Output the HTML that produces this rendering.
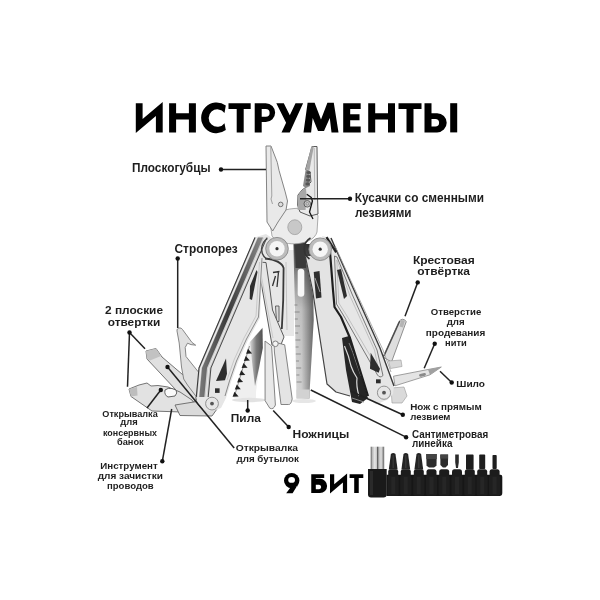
<!DOCTYPE html>
<html><head><meta charset="utf-8">
<style>
html,body{margin:0;padding:0;background:#fff;width:600px;height:600px;overflow:hidden}
svg{display:block;filter:grayscale(1)}
text{font-family:"Liberation Sans",sans-serif;font-weight:bold;fill:#1e1e1e}
.t{fill:#000}
</style></head>
<body>
<svg width="600" height="600" viewBox="0 0 600 600">
<defs>
<linearGradient id="rulerG" x1="0" y1="0" x2="0" y2="1">
<stop offset="0" stop-color="#404040"/><stop offset="0.2" stop-color="#8a8a8a"/><stop offset="0.42" stop-color="#c8c8c8"/><stop offset="1" stop-color="#dadada"/>
</linearGradient>
<linearGradient id="sawG" x1="0" y1="0" x2="1" y2="0">
<stop offset="0" stop-color="#d8d8d8"/><stop offset="0.5" stop-color="#7a7a7a"/><stop offset="1" stop-color="#505050"/>
</linearGradient>
<linearGradient id="silver" x1="0" y1="0" x2="1" y2="0">
<stop offset="0" stop-color="#5a5a5a"/><stop offset="0.12" stop-color="#b8b8b8"/><stop offset="0.3" stop-color="#e6e6e6"/><stop offset="0.44" stop-color="#c8c8c8"/><stop offset="0.52" stop-color="#4a4a4a"/><stop offset="0.6" stop-color="#c0c0c0"/><stop offset="0.78" stop-color="#dedede"/><stop offset="1" stop-color="#666"/>
</linearGradient>
<linearGradient id="rulerH" x1="0" y1="0" x2="1" y2="0">
<stop offset="0" stop-color="#000" stop-opacity="0"/><stop offset="0.4" stop-color="#000" stop-opacity="0.05"/><stop offset="1" stop-color="#000" stop-opacity="0.5"/>
</linearGradient>
<linearGradient id="railG" x1="0" y1="0" x2="1" y2="0">
<stop offset="0" stop-color="#7a7a7a"/><stop offset="0.45" stop-color="#3a3a3a"/><stop offset="1" stop-color="#8a8a8a"/>
</linearGradient>
</defs>
<rect width="600" height="600" fill="#fff"/>

<!-- TITLE -->
<g id="title" fill="#000">
<polygon points="135.8,103.2 142.6,103.2 142.6,119 162.7,102.1 162.7,132.4 155.9,132.4 155.9,116.1 135.8,133"/>
<path d="M169.1,103.2h7v10h12.8v-10h7v29.2h-7v-12.8h-12.8v12.8h-7z"/>
<path d="M225.8,105.5 A15.4,15.4 0 1 0 225.8,130.1 L224.5,123.2 A8.74,8.74 0 1 1 224.5,113 Z"/>
<path d="M228.5,103.2H250.7V109.1H243.7V132.4H236.7V109.1H228.5Z"/>
<path fill-rule="evenodd" d="M254.7,103.2 H265.8 A9.35,9.35 0 0 1 265.8,121.9 H261.7 V132.4 H254.7 Z M261.7,109.1 H265.8 A3.8,3.8 0 0 1 265.8,116.7 H261.7 Z"/>
<polygon points="276.3,103.2 283.8,103.2 289.8,115.15 295.5,103.2 303.1,103.2 289.7,132.4 281.5,132.4 286.1,122.8"/>
<polygon points="303.5,132.4 307.6,102.7 314.6,102.7 321,119.5 327.4,102.7 333.8,102.7 338.5,132.4 331.5,132.4 329.8,118 324,131 318,131 312.7,118 311.1,132.4"/>
<path d="M343.2,103.2H360.7V109.1H350.2V114.3H359.5V120.2H350.2V126.6H360.7V132.4H343.2Z"/>
<path d="M368.2,103.2h7v10h12.8v-10h7v29.2h-7v-12.8h-12.8v12.8h-7z"/>
<path d="M398.5,103.2H421.5V109.1H413.5V132.4H406.5V109.1H398.5Z"/>
<path fill-rule="evenodd" d="M424.5,103.2 H431.5 V113.2 H437.1 A9.6,9.6 0 0 1 437.1,132.4 H424.5 Z M431.5,119 H435.3 A3.8,3.8 0 0 1 435.3,126.6 H431.5 Z"/>
<rect x="450.2" y="103.2" width="7" height="29.2"/>
</g>

<!-- TOOL -->
<g id="tool" stroke-linejoin="round">
<!-- ===== right fanned tools ===== -->
<path d="M383,357 L399,321.5 Q402.5,317 406.3,321.5 L391.5,362 Z" fill="#dedede" stroke="#777" stroke-width="0.8"/>
<path d="M384,356 L399.8,321" stroke="#4a4a4a" stroke-width="1.4" fill="none"/>
<path d="M401,320 L405,320.5 L403,327.5 L399.5,326.5 Z" fill="#b4b4b4"/>
<path d="M388.5,361 L401,360 L402,366.5 L390.5,368.5 Z" fill="#d8d8d8" stroke="#999" stroke-width="0.6"/>
<path d="M393.5,376.2 L428,369.5 L441.3,367 L430,374.8 L395,385.8 Z" fill="#e4e4e4" stroke="#888" stroke-width="0.8"/>
<path d="M428,369.6 L441.3,367 L430,374.8 Z" fill="#a0a0a0"/>
<rect x="419" y="373.4" width="7" height="2.8" rx="1.4" fill="#8a8a8a" transform="rotate(-13 422.5 374.8)"/>
<path d="M391,388 L404,387 L407,396 L402,403 L392,403 Z" fill="#dadada" stroke="#999" stroke-width="0.6"/>

<!-- ===== left fanned tools ===== -->

<path d="M146,351 L156,348.5 L162,357 L196,386 L198,398 L190,405 L147,359 Z" fill="#e0e0e0" stroke="#666" stroke-width="0.9"/>
<path d="M146,351 L156,348.5 L161,356 L150,360.5 L147,359 Z" fill="#c2c2c2"/>
<path d="M177,331 C176.5,327.5 181,327 182.5,329.5 L192,342.5 L195.7,345.2 L191,344.6 L187.5,343.2 L185.2,347.5 L186,356.5 L198,371.5 L201,374.5 L202,396 L196.5,397 L187.5,385 L183.7,379 L181.5,367 L179.2,343 Z" fill="#e0e0e0" stroke="#7a7a7a" stroke-width="0.9"/>
<path d="M129,389 L139,385 L147,383 L151,386 L158,385.5 L168,387 L180,392 L192,400 L197,408 L182,412 L152,411 L131,396.5 Z" fill="#e2e2e2" stroke="#666" stroke-width="0.9"/>
<path d="M129,389 L137,387 L137.5,395.5 L131,396.5 Z" fill="#bdbdbd"/>
<path d="M165,390 Q168,387.5 172,388.5 L176,390 Q178,393 175,396 L168,397 Q164,395 165,390 Z" fill="#fafafa" stroke="#555" stroke-width="0.9"/>
<path d="M175,405 L200,401 L217,409 L212,416 L180,415.5 Z" fill="#dadada" stroke="#666" stroke-width="0.9"/>

<!-- ===== saw ===== -->
<path d="M249,343 L262.5,327 L262.5,345 L256,392 L256,398 L233.5,398 L235.5,392 Z" fill="#efefef"/>
<path d="M250,342 L262.5,328 L262.8,348 L259,368 L255,386 L252.5,366 Z" fill="url(#sawG)"/>
<path d="M249.5,346 L234.5,396" stroke="#777" stroke-width="0.8"/>
<g fill="#222"><path d="M248.0,348.7 L252.1,353.4 L246.1,353.8 Z"/><path d="M245.8,355.9 L249.8,360.6 L243.8,361.0 Z"/><path d="M243.5,363.0 L247.6,367.7 L241.6,368.1 Z"/><path d="M241.2,370.2 L245.3,374.9 L239.3,375.3 Z"/><path d="M239.0,377.4 L243.1,382.1 L237.1,382.5 Z"/><path d="M236.8,384.5 L240.8,389.2 L234.8,389.6 Z"/><path d="M234.5,391.7 L238.6,396.4 L232.6,396.8 Z"/></g>
<ellipse cx="249" cy="400" rx="17" ry="2.2" fill="#e2e2e2"/>

<!-- ===== central tools ===== -->
<!-- middle tool (bottle opener) -->
<path d="M260,250 L294,250 L294,336 L285,336 L277,338 L266,300 Z" fill="#e8e8e8"/>
<path d="M265,258.5 Q281,260 283.6,268 L283.2,300 L281.8,329" stroke="#3a3a3a" stroke-width="1.8" fill="none"/>
<path d="M286,262 L287,330" stroke="#bbb" stroke-width="0.8" fill="none"/>
<path d="M273,272.5 L279.5,271.5 M278.5,272 L277,287 M275.5,276 L272.5,286" stroke="#333" stroke-width="1.3" fill="none"/>
<path d="M275.5,306 L279,306 L279,321.5 L276.5,321.5 Z" fill="#dadada" stroke="#555" stroke-width="0.9"/>

<!-- ruler -->
<path d="M293.5,244 L310,244 L312.5,260 L313.7,320 L309.7,390 L309.5,398.5 L296.5,398.5 Z" fill="url(#rulerG)"/>
<path d="M293.5,244 L310,244 L312.5,260 L313.7,320 L309.7,390 L309.5,398.5 L296.5,398.5 Z" fill="url(#rulerH)"/>
<rect x="297.7" y="268.7" width="6.6" height="28" rx="3.3" fill="#f7f7f7"/>
<g stroke="#666" stroke-width="0.6">
<line x1="294.4" y1="305" x2="297.4" y2="305"/><line x1="294.6" y1="312" x2="299.6" y2="312"/><line x1="294.8" y1="319" x2="297.8" y2="319"/><line x1="295.0" y1="326" x2="300" y2="326"/><line x1="295.2" y1="333" x2="298.2" y2="333"/><line x1="295.4" y1="340" x2="300.4" y2="340"/><line x1="295.6" y1="347" x2="298.6" y2="347"/><line x1="295.8" y1="354" x2="300.8" y2="354"/><line x1="296.0" y1="361" x2="299" y2="361"/><line x1="296.2" y1="368" x2="301.2" y2="368"/><line x1="296.4" y1="375" x2="299.4" y2="375"/><line x1="296.6" y1="382" x2="301.6" y2="382"/>
</g>
<rect x="296.5" y="389.5" width="13" height="9" fill="#d2d2d2"/>
<ellipse cx="304" cy="401" rx="12" ry="2" fill="#e6e6e6"/>

<!-- knife blade -->
<path d="M305,256 L329,256 L333,290 L334.5,307 L341,317 L350,338 L352,360 L350,396 L336,392 L327,384 L312,290 Z" fill="#e3e3e3"/>
<path d="M305.5,257 L312.5,290 L327,384 L336,392 L350,396" stroke="#444" stroke-width="1.2" fill="none"/>
<path d="M313.7,272 L319.5,271 L321.5,297.5 L316,298.5 Z" fill="#2e2e2e"/>
<path d="M315,278 L320,292" stroke="#aaa" stroke-width="0.9"/>

<!-- black blade near right handle -->
<path d="M342,338 L349,336 L360,365 L368,398 L360,404 L352,402 L346,370 Z" fill="#262626"/>
<path d="M344.5,346 Q349,356 351,366 Q353,372 357,378 Q356,386 359,396" stroke="#d8d8d8" stroke-width="1.2" fill="none"/>
<path d="M349,343 Q353,352 356,362 L361,376" stroke="#777" stroke-width="1" fill="none"/>
<path d="M352,398 L364,402" stroke="#888" stroke-width="1" fill="none"/>

<!-- scissors -->
<path d="M257.5,262 L266,262.5 L270,290 L272.5,310 L281,330 L284,337 L280,347 L272,345 Z" fill="#e6e6e6" stroke="#5a5a5a" stroke-width="1"/>
<path d="M259.5,266 L273,338" stroke="#c4c4c4" stroke-width="0.8"/>
<path d="M265,341 L271.6,346 L275.4,405 Q273.5,410 269.8,408.2 L265.1,400.7 Z" fill="#e8e8e8" stroke="#777" stroke-width="0.9"/>
<path d="M274,342 L284.7,344.8 L292.2,398.9 Q291,405 288.4,404.5 L281,404.5 L274.4,352 Z" fill="#e4e4e4" stroke="#777" stroke-width="0.9"/>
<circle cx="275.4" cy="343.8" r="2.8" fill="#f4f4f4" stroke="#777" stroke-width="0.9"/>

<!-- ===== left handle ===== -->
<path d="M254.5,237.5 L266,234 L275,240 L263,252 L260,318 L248,340 L238,362 L231,382 L226,398 L221,408 L212,411.5 L203,409.5 L197.5,403 L195.8,397 L198.5,368 Z" fill="#e6e6e6"/>
<path d="M254.5,237.5 L198.5,368.0 L195.8,397.0 L208.8,397.0 L211.5,368.0 L267.5,237.5 Z" fill="#cfcfcf"/><path d="M258.0,237.5 L202.0,368.0 L199.3,397.0 L204.3,397.0 L207.0,368.0 L263.0,237.5 Z" fill="url(#railG)"/><path d="M255.0,237.5 L199.0,368.0 L196.3,397.0" stroke="#3a3a3a" stroke-width="1.1" fill="none"/><path d="M256.8,237.5 L200.8,368.0 L198.1,397.0" stroke="#f0f0f0" stroke-width="1" fill="none"/><path d="M264.8,237.5 L208.8,368.0 L206.1,397.0" stroke="#ececec" stroke-width="0.9" fill="none"/><path d="M266.9,237.5 L210.9,368.0 L208.2,397.0" stroke="#4a4a4a" stroke-width="1" fill="none"/>
<path d="M195.8,397 Q196,405 203,409.5" stroke="#666" stroke-width="1" fill="none"/>
<path d="M262,258 L258.5,317 L246.5,339 L236.5,361 L229.5,381 L225,396" stroke="#8a8a8a" stroke-width="1" fill="none"/>
<path d="M259.5,262 L256,316 L244,338 L234,360 L227,380" stroke="#c0c0c0" stroke-width="0.8" fill="none"/>
<path d="M256.5,270 L257.5,272 L252,300 L249.7,299 L250,286 Z" fill="#2e2e2e"/>
<path d="M226,358.5 L227,373.8 L225,380.2 L216,381 Z" fill="#2e2e2e"/>
<rect x="215" y="388.3" width="4.6" height="4.6" fill="#2e2e2e"/>
<circle cx="212" cy="403.6" r="6.4" fill="#e6e6e6" stroke="#888" stroke-width="0.9"/>
<circle cx="212" cy="403.6" r="1.9" fill="#555"/>

<!-- ===== right handle ===== -->
<path d="M322,236 L331,238 L354,290 L380,348 L394,386 L393,394 L388,399.5 L376,404.5 L368,398 L350,338 L341,317 L334.5,307 L333,290 L330,262 Z" fill="#e6e6e6"/>
<path d="M331,238 L354,290 L380,348 L394,386" stroke="#3a3a3a" stroke-width="1.4" fill="none"/>
<path d="M335,246 L357,294 L383,350 L391,372" stroke="#9a9a9a" stroke-width="0.8" fill="none"/>
<path d="M330,252 L333,290 L334.5,307 L341,317 L350,338 L368,396" stroke="#1e1e1e" stroke-width="2.2" fill="none"/>
<path d="M334.5,256 L336.5,304 L344.5,317 L377.5,375 Q380,378.5 383,375.5 L377,350 L352,294 L337,257 Z" stroke="#6a6a6a" stroke-width="0.9" fill="none"/>
<path d="M336.8,260 L338.8,303 L347,316 L378.5,370 L374.5,350 L350,296 Z" stroke="#b0b0b0" stroke-width="0.7" fill="none"/>
<path d="M337,270 L341,269 L347,296 L344,299 Z" fill="#2e2e2e"/>
<path d="M370.7,352.7 L380,368.7 L378.7,372.7 L370,368.7 Z" fill="#2e2e2e"/>
<rect x="376" y="379.3" width="4.7" height="4" fill="#2e2e2e"/>
<circle cx="384" cy="392.7" r="6.6" fill="#e6e6e6" stroke="#888" stroke-width="0.9"/>
<circle cx="384" cy="392.7" r="1.9" fill="#555"/>

<!-- dark gap between rollers -->
<path d="M295,241 L305.5,241 L306,268 L295.5,268 Z" fill="#3a3a3a"/>

<!-- ===== pliers head ===== -->
<path d="M270,222 C272,206 316,204 318,216 L317,232 C313,247 279,247 272,236 Z" fill="#ececec" stroke="#999" stroke-width="0.8"/>
<ellipse cx="294.8" cy="227.2" rx="7" ry="7.4" fill="#c8c8c8" stroke="#a0a0a0" stroke-width="0.8"/>
<path d="M266,146 L271,146 L277.3,162.4 L279,170.3 L285.2,191.9 L287.5,201 L286,210 L278,222 L272.7,231 L267,222 Z" fill="#e9e9e9" stroke="#777" stroke-width="0.9"/>
<path d="M270.8,147 L271.8,196 L271,199 L272.5,204" stroke="#999" stroke-width="0.9" fill="none"/>
<path d="M312,146.5 L317,146.5 L317.5,196 L318,214 L310,216 L300,212 L297.5,205 L298,195 L302,190 L305.6,187.4 L311,182 L310,172 L305.6,169.5 Z" fill="#e9e9e9" stroke="#5a5a5a" stroke-width="1"/>
<path d="M311.3,146.5 L313.8,146.5 L309.5,170 L305.6,169.5 Z" fill="#a4a4a4"/>
<path d="M314.2,148 L314.8,200" stroke="#aaa" stroke-width="0.8" fill="none"/>
<path d="M305.6,170 L309.5,170.5 L310,186 L306,188 L303,186 Z" fill="#8a8a8a"/>
<g fill="#555"><ellipse cx="308.6" cy="172.5" rx="2.3" ry="1.6"/><ellipse cx="308.4" cy="176.3" rx="2.3" ry="1.6"/><ellipse cx="308.1" cy="180.1" rx="2.3" ry="1.6"/><ellipse cx="307.6" cy="183.9" rx="2.3" ry="1.6"/></g>
<path d="M297.7,196 L302,190 L306,188 L306.5,195 L305.6,210 L297.7,210 Z" fill="#a8a8a8"/>
<path d="M306.8,194.2 L311.3,197.6 L312.4,201 L309.5,212 L313,219" fill="none" stroke="#111" stroke-width="1.3"/>
<circle cx="280.7" cy="204.4" r="2.3" fill="#ddd" stroke="#666" stroke-width="0.9"/>
<circle cx="307.3" cy="203.8" r="3.3" fill="#c8c8c8" stroke="#555" stroke-width="0.9"/>
<circle cx="307.3" cy="203.8" r="1.4" fill="none" stroke="#777" stroke-width="0.6"/>

<!-- rollers -->
<path d="M326.5,237.2 L336.2,252.3" stroke="#222" stroke-width="2.2" fill="none"/>
<path d="M310.5,238 A12.5,12.5 0 0 0 309.5,259" stroke="#333" stroke-width="1.6" fill="none"/>
<path d="M267.5,238.5 A12.5,12.5 0 0 0 266.5,259" stroke="#444" stroke-width="1.4" fill="none"/>
<circle cx="277" cy="248.7" r="11.3" fill="#bcbcbc" stroke="#8a8a8a" stroke-width="0.9"/>
<circle cx="277" cy="248.7" r="7.7" fill="#f6f6f6"/>
<circle cx="277" cy="248.7" r="1.6" fill="#333"/>
<circle cx="320.2" cy="249.2" r="11.3" fill="#bcbcbc" stroke="#8a8a8a" stroke-width="0.9"/>
<circle cx="320.2" cy="249.2" r="7.7" fill="#f6f6f6"/>
<circle cx="320.2" cy="249.2" r="1.6" fill="#333"/>
</g>

<!-- LEADER LINES -->
<g stroke="#222" stroke-width="1.5" fill="none">
<line x1="221" y1="169.5" x2="266" y2="169.5"/>
<line x1="350" y1="198.7" x2="300" y2="198.7"/>
<line x1="177.7" y1="258.5" x2="177.7" y2="328"/>
<line x1="129.5" y1="332.5" x2="127.5" y2="386.7"/>
<line x1="129.5" y1="332.5" x2="145" y2="348.7"/>
<line x1="417.7" y1="282.4" x2="405" y2="316.3"/>
<line x1="434.7" y1="343.7" x2="424.2" y2="368.3"/>
<line x1="451.7" y1="382.5" x2="440" y2="371.3"/>
<line x1="402.8" y1="414.8" x2="351" y2="391.3"/>
<line x1="406.1" y1="437.2" x2="310.8" y2="390"/>
<line x1="288.7" y1="427" x2="273.2" y2="410.5"/>
<line x1="247.7" y1="410.5" x2="247.7" y2="400"/>
<line x1="167.5" y1="367" x2="234.2" y2="448"/>
<line x1="160.8" y1="390" x2="147" y2="408"/>
<line x1="162.3" y1="461.3" x2="171.7" y2="409"/>
</g>
<g fill="#111">
<circle cx="221" cy="169.5" r="2.2"/><circle cx="350" cy="198.7" r="2.2"/><circle cx="177.7" cy="258.5" r="2.2"/>
<circle cx="129.5" cy="332.5" r="2.2"/><circle cx="417.7" cy="282.4" r="2.2"/><circle cx="434.7" cy="343.7" r="2.2"/>
<circle cx="451.7" cy="382.5" r="2.2"/><circle cx="402.8" cy="414.8" r="2.2"/><circle cx="406.1" cy="437.2" r="2.2"/>
<circle cx="288.7" cy="427" r="2.2"/><circle cx="247.7" cy="410.5" r="2.2"/><circle cx="167.5" cy="367" r="2.2"/>
<circle cx="160.8" cy="390" r="2.2"/><circle cx="162.3" cy="461.3" r="2.2"/>
</g>

<!-- LABELS -->
<text x="132" y="172" font-size="12" textLength="78.5" lengthAdjust="spacingAndGlyphs">Плоскогубцы</text>
<text x="354.7" y="201.9" font-size="12.5" textLength="129.3" lengthAdjust="spacingAndGlyphs">Кусачки со сменными</text>
<text x="355" y="216.8" font-size="12.5" textLength="56.5" lengthAdjust="spacingAndGlyphs">лезвиями</text>
<text x="174.5" y="252.8" font-size="12.5" textLength="63.2" lengthAdjust="spacingAndGlyphs">Стропорез</text>
<text x="105" y="313.9" font-size="11" textLength="58" lengthAdjust="spacingAndGlyphs">2 плоские</text>
<text x="107.7" y="326" font-size="11" textLength="52.6" lengthAdjust="spacingAndGlyphs">отвертки</text>
<text x="412.9" y="264" font-size="11.6" textLength="61.8" lengthAdjust="spacingAndGlyphs">Крестовая</text>
<text x="417.3" y="275.3" font-size="11.6" textLength="52.7" lengthAdjust="spacingAndGlyphs">отвёртка</text>
<text x="430.8" y="315.3" font-size="8.9" textLength="50.5" lengthAdjust="spacingAndGlyphs">Отверстие</text>
<text x="446.7" y="325" font-size="8.9" textLength="18" lengthAdjust="spacingAndGlyphs">для</text>
<text x="425.8" y="335.8" font-size="8.9" textLength="59.5" lengthAdjust="spacingAndGlyphs">продевания</text>
<text x="445" y="345.8" font-size="8.9" textLength="21.7" lengthAdjust="spacingAndGlyphs">нити</text>
<text x="456.3" y="386.7" font-size="9.7" textLength="28.7" lengthAdjust="spacingAndGlyphs">Шило</text>
<text x="410.2" y="410" font-size="9.7" textLength="71.5" lengthAdjust="spacingAndGlyphs">Нож с прямым</text>
<text x="410.2" y="419.8" font-size="9.7" textLength="40.3" lengthAdjust="spacingAndGlyphs">лезвием</text>
<text x="412" y="438.1" font-size="10.6" textLength="76.2" lengthAdjust="spacingAndGlyphs">Сантиметровая</text>
<text x="412" y="447.3" font-size="10.6" textLength="40.4" lengthAdjust="spacingAndGlyphs">линейка</text>
<text x="230.8" y="422.2" font-size="11.6" textLength="30" lengthAdjust="spacingAndGlyphs">Пила</text>
<text x="292.5" y="438.3" font-size="10.9" textLength="56.7" lengthAdjust="spacingAndGlyphs">Ножницы</text>
<text x="235.7" y="451" font-size="9.4" textLength="62.3" lengthAdjust="spacingAndGlyphs">Открывалка</text>
<text x="236.5" y="461.5" font-size="9.4" textLength="62.5" lengthAdjust="spacingAndGlyphs">для бутылок</text>
<text x="102.3" y="417.3" font-size="8.7" textLength="55.4" lengthAdjust="spacingAndGlyphs">Открывалка</text>
<text x="120.3" y="425.3" font-size="8.7" textLength="17.4" lengthAdjust="spacingAndGlyphs">для</text>
<text x="103" y="436" font-size="8.7" textLength="54" lengthAdjust="spacingAndGlyphs">консервных</text>
<text x="117" y="444.7" font-size="8.7" textLength="26.7" lengthAdjust="spacingAndGlyphs">банок</text>
<text x="100.3" y="468.7" font-size="8.7" textLength="57.4" lengthAdjust="spacingAndGlyphs">Инструмент</text>
<text x="97.7" y="478.7" font-size="8.7" textLength="65.3" lengthAdjust="spacingAndGlyphs">для зачистки</text>
<text x="107" y="488.7" font-size="8.7" textLength="46.7" lengthAdjust="spacingAndGlyphs">проводов</text>

<!-- 9 БИТ -->
<g id="bit9" fill="#000">
<circle cx="291.7" cy="480.6" r="7.7"/>
<polygon points="297.2,486.5 299.2,482.5 292.6,493.2 286.2,493.2 291,486.8"/>
<ellipse cx="291.6" cy="479.9" rx="3.4" ry="2.9" fill="#fff"/>
<path fill-rule="evenodd" d="M311.25,474.25 H324.2 V478 H315.8 V478.8 H320 A7.1,7.1 0 0 1 320,493 H311.25 Z M315.8,484.7 H319.2 A2.3,2.3 0 0 1 319.2,489.25 H315.8 Z"/>
<polygon points="330,474.25 334.2,474.25 334.2,484.25 347.1,473.4 347.1,493 342.9,493 342.9,482.6 330,493.4"/>
<path d="M349.6,474.25H363.3V477.9H358.75V493H354.2V477.9H349.6Z"/>
</g>

<!-- BITS -->
<g id="bits">
<rect x="370.7" y="446.7" width="13.5" height="23" fill="url(#silver)"/>
<path d="M368,469 L386.7,469 L386.7,494.5 Q386.7,497.5 383.5,497.5 L371,497.5 Q368,497.5 368,494.5 Z" fill="#1a1a1a"/>
<rect x="370" y="471" width="3" height="24" fill="#2a2a2a"/>
<path d="M386.5,474.8 L500.5,474.8 Q502.3,474.8 502.3,477 L502.3,493 Q502.3,496 499.5,496 L386.5,496 Z" fill="#161616"/>
<rect x="387.6" y="475.5" width="11.2" height="20.3" rx="2" fill="#1e1e1e"/>
<rect x="391.2" y="477" width="4" height="17" fill="#262626"/>
<path d="M388.2,476 L388.2,471.5 Q388.2,469.5 390.2,469.3 L396.2,469.3 Q398.2,469.5 398.2,471.5 L398.2,476 Z" fill="#1c1c1c"/>
<path d="M390.9,454 Q393.2,451.8 395.5,454 L397.6,469.5 L388.8,469.5 Z" fill="#242424"/>
<path d="M393.2,455 L393.2,468" stroke="#3c3c3c" stroke-width="1.2"/>
<rect x="400.2" y="475.5" width="11.2" height="20.3" rx="2" fill="#1e1e1e"/>
<rect x="403.8" y="477" width="4" height="17" fill="#262626"/>
<path d="M400.8,476 L400.8,471.5 Q400.8,469.5 402.8,469.3 L408.8,469.3 Q410.8,469.5 410.8,471.5 L410.8,476 Z" fill="#1c1c1c"/>
<path d="M403.5,454 Q405.8,451.8 408.1,454 L410.2,469.5 L401.4,469.5 Z" fill="#242424"/>
<path d="M405.8,455 L405.8,468" stroke="#3c3c3c" stroke-width="1.2"/>
<rect x="413.2" y="475.5" width="11.2" height="20.3" rx="2" fill="#1e1e1e"/>
<rect x="416.8" y="477" width="4" height="17" fill="#262626"/>
<path d="M413.8,476 L413.8,471.5 Q413.8,469.5 415.8,469.3 L421.8,469.3 Q423.8,469.5 423.8,471.5 L423.8,476 Z" fill="#1c1c1c"/>
<path d="M416.5,454 Q418.8,451.8 421.1,454 L423.2,469.5 L414.4,469.5 Z" fill="#242424"/>
<path d="M418.8,455 L418.8,468" stroke="#3c3c3c" stroke-width="1.2"/>
<rect x="425.9" y="475.5" width="11.2" height="20.3" rx="2" fill="#1e1e1e"/>
<rect x="429.5" y="477" width="4" height="17" fill="#262626"/>
<path d="M426.5,476 L426.5,471.5 Q426.5,469.5 428.5,469.3 L434.5,469.3 Q436.5,469.5 436.5,471.5 L436.5,476 Z" fill="#1c1c1c"/>
<path d="M426.3,454 L436.7,454 L436.5,465.8 L434.0,467.5 L429.0,467.5 L426.5,465.8 Z" fill="#2c2c2c"/>
<rect x="426.3" y="454" width="10.4" height="5" fill="#444"/>
<rect x="438.6" y="475.5" width="11.2" height="20.3" rx="2" fill="#1e1e1e"/>
<rect x="442.2" y="477" width="4" height="17" fill="#262626"/>
<path d="M439.2,476 L439.2,471.5 Q439.2,469.5 441.2,469.3 L447.2,469.3 Q449.2,469.5 449.2,471.5 L449.2,476 Z" fill="#1c1c1c"/>
<path d="M440.3,454.6 L448.1,454.6 L448.0,465 L445.5,467.6 L442.9,467.6 L440.4,465 Z" fill="#2c2c2c"/>
<rect x="440.3" y="454.6" width="7.8" height="4" fill="#444"/>
<rect x="451.4" y="475.5" width="11.2" height="20.3" rx="2" fill="#1e1e1e"/>
<rect x="455.0" y="477" width="4" height="17" fill="#262626"/>
<path d="M452.0,476 L452.0,471.5 Q452.0,469.5 454.0,469.3 L460.0,469.3 Q462.0,469.5 462.0,471.5 L462.0,476 Z" fill="#1c1c1c"/>
<path d="M455.2,454.6 L458.8,454.6 L458.8,462 L458.0,468 L456.0,468 L455.2,462 Z" fill="#2a2a2a"/>
<rect x="464.2" y="475.5" width="11.2" height="20.3" rx="2" fill="#1e1e1e"/>
<rect x="467.8" y="477" width="4" height="17" fill="#262626"/>
<path d="M464.8,476 L464.8,471.5 Q464.8,469.5 466.8,469.3 L472.8,469.3 Q474.8,469.5 474.8,471.5 L474.8,476 Z" fill="#1c1c1c"/>
<rect x="466.0" y="454.6" width="7.6" height="15" rx="0.8" fill="#1e1e1e"/>
<rect x="476.6" y="475.5" width="11.2" height="20.3" rx="2" fill="#1e1e1e"/>
<rect x="480.2" y="477" width="4" height="17" fill="#262626"/>
<path d="M477.2,476 L477.2,471.5 Q477.2,469.5 479.2,469.3 L485.2,469.3 Q487.2,469.5 487.2,471.5 L487.2,476 Z" fill="#1c1c1c"/>
<rect x="479.2" y="454.6" width="6" height="14.5" rx="0.8" fill="#1e1e1e"/>
<rect x="489.0" y="475.5" width="11.2" height="20.3" rx="2" fill="#1e1e1e"/>
<rect x="492.6" y="477" width="4" height="17" fill="#262626"/>
<path d="M489.6,476 L489.6,471.5 Q489.6,469.5 491.6,469.3 L497.6,469.3 Q499.6,469.5 499.6,471.5 L499.6,476 Z" fill="#1c1c1c"/>
<rect x="492.5" y="455" width="4.2" height="14" rx="0.8" fill="#1e1e1e"/>
</g>
</svg>
</body></html>
